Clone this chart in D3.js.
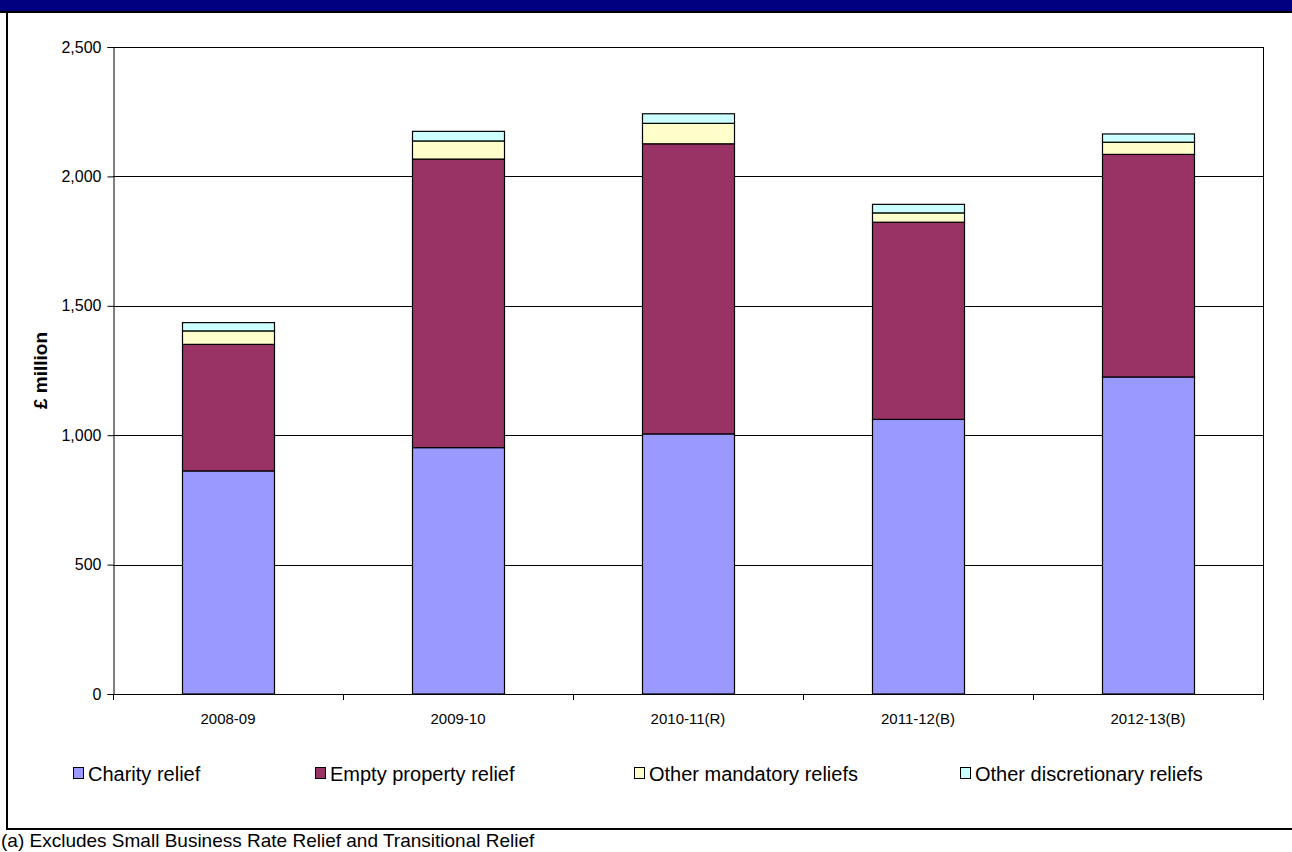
<!DOCTYPE html>
<html>
<head>
<meta charset="utf-8">
<script src="https://cdn.jsdelivr.net/npm/d3@7"></script>
<style>
  body { margin: 0; background: #fff; }
  svg { display: block; font-family: Arial, "Liberation Sans", sans-serif; }
</style>
</head>
<body>
<script>
// data (GBP million)
var years = ["2008-09", "2009-10", "2010-11(R)", "2011-12(B)", "2012-13(B)"];
var seriesNames = ["Charity relief", "Empty property relief", "Other mandatory reliefs", "Other discretionary reliefs"];
var charity = [862, 952, 1005, 1061, 1225];
var emptyProp = [489, 1115, 1121, 762, 860];
var otherMandatory = [52, 70, 79, 36, 47];
var otherDiscretionary = [32, 37, 37, 33, 32];
var yTicks = [0, 500, 1000, 1500, 2000, 2500];
var colours = ["#9999ff", "#993366", "#ffffcc", "#ccffff"];

var W = 1292, H = 852;
var plotLeft = 113, plotRight = 1263, plotTop = 47, plotBottom = 694;

var svg = d3.select("body").append("svg")
    .attr("width", W)
    .attr("height", H);

// frame and header bar
svg.append("rect").attr("x", 0).attr("y", 0).attr("width", W).attr("height", 11).attr("fill", "#000080");
svg.append("line").attr("x1", 0).attr("x2", W).attr("y1", 12).attr("y2", 12).attr("stroke", "#000").attr("stroke-width", 2);
svg.append("line").attr("x1", 7).attr("x2", 7).attr("y1", 12).attr("y2", 830).attr("stroke", "#000").attr("stroke-width", 2);
svg.append("line").attr("x1", 6).attr("x2", W).attr("y1", 829).attr("y2", 829).attr("stroke", "#000").attr("stroke-width", 2);

// build rows for stacking
var rows = years.map(function (y, i) {
    return { year: y, s0: charity[i], s1: emptyProp[i], s2: otherMandatory[i], s3: otherDiscretionary[i] };
});
var stack = d3.stack().keys(["s0", "s1", "s2", "s3"]);
var layers = stack(rows);

var x = d3.scaleBand()
    .domain(years)
    .range([plotLeft, plotRight])
    .paddingInner(0.6)
    .paddingOuter(0.3);
var xOuter = d3.scaleBand().domain(years).range([plotLeft, plotRight]);
var y = d3.scaleLinear()
    .domain([0, 2500])
    .range([plotBottom, plotTop]);

// gridlines
svg.append("g").selectAll("line")
    .data(yTicks.slice(1))
    .enter().append("line")
    .attr("x1", plotLeft).attr("x2", plotRight)
    .attr("y1", function (d) { return Math.round(y(d)) + 0.5; })
    .attr("y2", function (d) { return Math.round(y(d)) + 0.5; })
    .attr("stroke", "#000")
    .attr("stroke-width", 1);

// right border of plot area
svg.append("line")
    .attr("x1", plotRight + 0.5).attr("x2", plotRight + 0.5)
    .attr("y1", plotTop).attr("y2", plotBottom)
    .attr("stroke", "#000");

// bars
svg.append("g").selectAll("g")
    .data(layers)
    .enter().append("g")
    .attr("fill", function (d, i) { return colours[i]; })
    .selectAll("rect")
    .data(function (d) { return d; })
    .enter().append("rect")
    .attr("x", function (d) { return Math.round(x(d.data.year)) + 0.5; })
    .attr("y", function (d) { return y(d[1]); })
    .attr("width", Math.round(x.bandwidth()))
    .attr("height", function (d) { return y(d[0]) - y(d[1]); })
    .attr("stroke", "#000")
    .attr("stroke-width", 1.2);

// y axis
var yAxis = d3.axisLeft(y)
    .tickValues(yTicks)
    .tickSize(6)
    .tickPadding(6)
    .tickFormat(d3.format(","));
var gy = svg.append("g")
    .attr("transform", "translate(" + (plotLeft + 0.5) + ",0)")
    .call(yAxis);
gy.select(".domain").attr("stroke", "#000");
gy.selectAll("text").attr("font-size", 16).attr("fill", "#000").attr("font-family", "Arial, 'Liberation Sans', sans-serif");

// x axis: ticks at category boundaries
svg.append("line")
    .attr("x1", plotLeft).attr("x2", plotRight)
    .attr("y1", plotBottom + 0.5).attr("y2", plotBottom + 0.5)
    .attr("stroke", "#000");
var bounds = years.map(function (d) { return xOuter(d); }).concat([plotRight]);
svg.append("g").selectAll("line")
    .data(bounds)
    .enter().append("line")
    .attr("x1", function (d) { return Math.round(d) + 0.5; })
    .attr("x2", function (d) { return Math.round(d) + 0.5; })
    .attr("y1", plotBottom)
    .attr("y2", plotBottom + 6)
    .attr("stroke", "#000");
svg.append("g").selectAll("text")
    .data(years)
    .enter().append("text")
    .attr("x", function (d) { return xOuter(d) + xOuter.bandwidth() / 2; })
    .attr("y", 724)
    .attr("text-anchor", "middle")
    .attr("font-size", 15)
    .text(function (d) { return d; });

// y axis title
svg.append("text")
    .attr("transform", "translate(47," + ((plotTop + plotBottom) / 2) + ") rotate(-90)")
    .attr("text-anchor", "middle")
    .attr("font-size", 19)
    .attr("font-weight", "bold")
    .text("£ million");

// legend
var legendX = [73, 315, 634, 960];
var legend = svg.append("g").selectAll("g")
    .data(seriesNames)
    .enter().append("g")
    .attr("transform", function (d, i) { return "translate(" + legendX[i] + ",774)"; });
legend.append("rect")
    .attr("x", 0.5).attr("y", -6.5)
    .attr("width", 10).attr("height", 11)
    .attr("fill", function (d, i) { return colours[i]; })
    .attr("stroke", "#000");
legend.append("text")
    .attr("x", 15)
    .attr("y", 7)
    .attr("font-size", 20)
    .text(function (d) { return d; });

// footnote
svg.append("text")
    .attr("x", 1)
    .attr("y", 847)
    .attr("font-size", 19)
    .text("(a)  Excludes Small Business Rate Relief and Transitional Relief");
</script>
</body>
</html>
